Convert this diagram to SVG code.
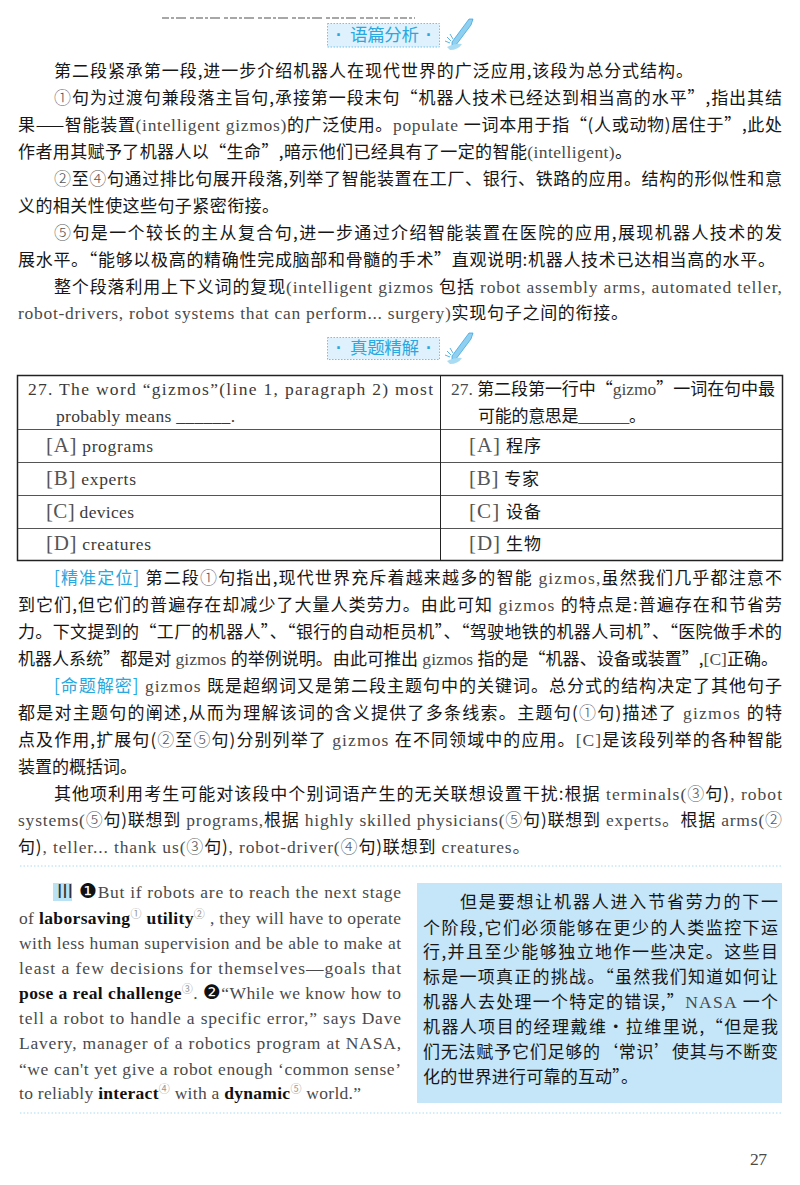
<svg xmlns="http://www.w3.org/2000/svg" xmlns:xlink="http://www.w3.org/1999/xlink" width="800" height="1185" viewBox="0 0 800 1185">
<style>
text{font-family:"Noto Sans CJK SC","Liberation Sans",sans-serif;font-size:17px;fill:#161616;white-space:pre}
.e{font-family:"Liberation Serif","Noto Sans CJK SC",serif;fill:#4a4a4a;font-size:17.500px}
.n{fill:#5a5a5a;font-weight:300}
.b{font-family:"Liberation Serif",serif;font-weight:bold;fill:#111;font-size:17.500px}
.s{font-family:"Noto Sans CJK SC",sans-serif;font-size:11px;fill:#999}
.k{font-family:"DejaVu Sans",sans-serif;fill:#111;font-size:20px}
.h{fill:#29a8e0}
.br{font-family:"Liberation Serif",serif;fill:#555;font-size:21px;font-weight:normal}
.badge{fill:#dff1fc;stroke:#6cc5ee;stroke-width:1;stroke-dasharray:1.5 1.5}
.bt{fill:#29a8e0;font-size:17.500px}
.bd{font-family:"Liberation Sans",sans-serif;font-weight:bold;fill:#29a8e0;font-size:17.500px}
.eng text{font-family:"Liberation Serif",serif;fill:#3a3a3a;font-size:17.500px}
.dot{stroke:#a9dcf2;stroke-width:1;stroke-dasharray:1.5 2;fill:none}
.t{stroke:#222;fill:none}
.r{stroke:#555;fill:none;stroke-width:1.200}
</style>
<defs>
<g id="pen">
<path d="M469 19 L473 19 L471 25 L456 45 L452 47 L452 42 Z" fill="#8fd0f0" stroke="#2f9fdc" stroke-width="0.700"/>
<path d="M447 47 Q456 43 462 44 Q458 50 450 50 Z" fill="#a9dcf2"/>
<path d="M447 37 L451 41 M445 41 L450 43 M450 34 L453 39" stroke="#2f9fdc" stroke-width="0.800" fill="none"/>
</g>
</defs>
<rect width="800" height="1185" fill="#fff"/>
<path id="cut-line" d="M162 18 H415" stroke="#8a8a8a" stroke-width="1.500" stroke-dasharray="7 2 3 2 10 4 4 2" fill="none"/>
<g id="badge-analysis">
<rect class="badge" x="327.500" y="23.500" width="112" height="23.500"/>
<text class="bd" x="336" y="41">·</text>
<text class="bt" x="350" y="41" textLength="69">语篇分析</text>
<text class="bd" x="426" y="41">·</text>
<use xlink:href="#pen"/>
</g>
<g id="analysis-text">
<text x="54" y="77" textLength="639">第二段紧承第一段,进一步介绍机器人在现代世界的广泛应用,该段为总分式结构。</text>
<text x="54" y="104" textLength="728"><tspan class="n">①</tspan>句为过渡句兼段落主旨句,承接第一段末句“机器人技术已经达到相当高的水平”,指出其结</text>
<text x="18" y="131" textLength="764">果——智能装置<tspan class="e">(intelligent gizmos)</tspan>的广泛使用。<tspan class="e">populate </tspan>一词本用于指“(人或动物)居住于”,此处</text>
<text x="18" y="158" textLength="614">作者用其赋予了机器人以“生命”,暗示他们已经具有了一定的智能<tspan class="e">(intelligent)</tspan>。</text>
<text x="54" y="185" textLength="728"><tspan class="n">②</tspan>至<tspan class="n">④</tspan>句通过排比句展开段落,列举了智能装置在工厂、银行、铁路的应用。结构的形似性和意</text>
<text x="18" y="212" textLength="261">义的相关性使这些句子紧密衔接。</text>
<text x="54" y="239" textLength="728"><tspan class="n">⑤</tspan>句是一个较长的主从复合句,进一步通过介绍智能装置在医院的应用,展现机器人技术的发</text>
<text x="18" y="266" textLength="757">展水平。“能够以极高的精确性完成脑部和骨髓的手术”直观说明:机器人技术已达相当高的水平。</text>
<text x="54" y="293" textLength="728">整个段落利用上下义词的复现<tspan class="e">(intelligent gizmos </tspan>包括<tspan class="e"> robot assembly arms, automated teller,</tspan></text>
<text x="18" y="319" textLength="610"><tspan class="e">robot-drivers, robot systems that can perform... surgery)</tspan>实现句子之间的衔接。</text>
</g>
<g id="badge-exam">
<rect class="badge" x="327.500" y="337.500" width="112" height="22"/>
<text class="bd" x="336" y="354">·</text>
<text class="bt" x="350" y="354" textLength="69">真题精解</text>
<text class="bd" x="426" y="354">·</text>
<use xlink:href="#pen" y="314"/>
</g>
<g id="table">
<rect class="t" x="17.500" y="375.500" width="765" height="185" stroke-width="1.500"/>
<path class="r" d="M18 429.500H782M18 462.500H782M18 495.500H782M18 528.500H782"/>
<path class="t" d="M440.500 375V561" stroke-width="1"/>
<g class="eng">
<text x="28" y="395" textLength="405">27. The word “gizmos”(line 1, paragraph 2) most</text>
<text x="56" y="422" textLength="179">probably means ______.</text>
<text x="46" y="452" textLength="107"><tspan class="br">[A]</tspan> programs</text>
<text x="46" y="485" textLength="90"><tspan class="br">[B]</tspan> experts</text>
<text x="46" y="518" textLength="88"><tspan class="br">[C]</tspan> devices</text>
<text x="46" y="550" textLength="105"><tspan class="br">[D]</tspan> creatures</text>
</g>
<text x="451" y="395" textLength="324"><tspan class="e">27. </tspan>第二段第一行中“<tspan class="e">gizmo</tspan>”一词在句中最</text>
<text x="478" y="422" textLength="168">可能的意思是<tspan class="e">______</tspan>。</text>
<text x="469" y="452" textLength="72"><tspan class="br">[A]</tspan><tspan class="e"> </tspan>程序</text>
<text x="469" y="485" textLength="70"><tspan class="br">[B]</tspan><tspan class="e"> </tspan>专家</text>
<text x="469" y="518" textLength="72"><tspan class="br">[C]</tspan><tspan class="e"> </tspan>设备</text>
<text x="469" y="550" textLength="72"><tspan class="br">[D]</tspan><tspan class="e"> </tspan>生物</text>
</g>
<g id="explanation-text">
<text x="54" y="584" textLength="728"><tspan class="h">[精准定位]</tspan> 第二段<tspan class="n">①</tspan>句指出,现代世界充斥着越来越多的智能<tspan class="e"> gizmos,</tspan>虽然我们几乎都注意不</text>
<text x="18" y="611" textLength="764">到它们,但它们的普遍存在却减少了大量人类劳力。由此可知<tspan class="e"> gizmos </tspan>的特点是:普遍存在和节省劳</text>
<text x="18" y="638" textLength="764">力。下文提到的“工厂的机器人”、“银行的自动柜员机”、“驾驶地铁的机器人司机”、“医院做手术的</text>
<text x="18" y="665" textLength="760">机器人系统”都是对<tspan class="e"> gizmos </tspan>的举例说明。由此可推出<tspan class="e"> gizmos </tspan>指的是“机器、设备或装置”,<tspan class="e">[C]</tspan>正确。</text>
<text x="54" y="692" textLength="728"><tspan class="h">[命题解密]</tspan><tspan class="e"> gizmos </tspan>既是超纲词又是第二段主题句中的关键词。总分式的结构决定了其他句子</text>
<text x="18" y="719" textLength="764">都是对主题句的阐述,从而为理解该词的含义提供了多条线索。主题句(<tspan class="n">①</tspan>句)描述了<tspan class="e"> gizmos </tspan>的特</text>
<text x="18" y="746" textLength="764">点及作用,扩展句(<tspan class="n">②</tspan>至<tspan class="n">⑤</tspan>句)分别列举了<tspan class="e"> gizmos </tspan>在不同领域中的应用。<tspan class="e">[C]</tspan>是该段列举的各种智能</text>
<text x="18" y="773">装置的概括词。</text>
<text x="54" y="800" textLength="728">其他项利用考生可能对该段中个别词语产生的无关联想设置干扰:根据<tspan class="e"> terminals(</tspan><tspan class="n">③</tspan>句)<tspan class="e">, robot</tspan></text>
<text x="18" y="826" textLength="764"><tspan class="e">systems(</tspan><tspan class="n">⑤</tspan>句)联想到<tspan class="e"> programs,</tspan>根据<tspan class="e"> highly skilled physicians(</tspan><tspan class="n">⑤</tspan>句)联想到<tspan class="e"> experts。</tspan>根据<tspan class="e"> arms(</tspan><tspan class="n">②</tspan></text>
<text x="18" y="853" textLength="512">句)<tspan class="e">, teller... thank us(</tspan><tspan class="n">③</tspan>句)<tspan class="e">, robot-driver(</tspan><tspan class="n">④</tspan>句)联想到<tspan class="e"> creatures。</tspan></text>
</g>
<path class="dot" id="rule-top" d="M20 866H782"/>
<g id="english-passage">
<rect x="53" y="883" width="19" height="18" fill="#b9e2f5"/>
<text class="e" x="56" y="898" style="fill:#333;font-size:18px">Ⅲ</text>
<text class="e" x="79" y="898" textLength="322"><tspan class="k">❶</tspan>But if robots are to reach the next stage</text>
<text class="e" x="19" y="924" textLength="382">of <tspan class="b">laborsaving</tspan><tspan class="s" dy="-6">①</tspan><tspan dy="6"> </tspan><tspan class="b">utility</tspan><tspan class="s" dy="-6">②</tspan><tspan dy="6"> , they will have to operate</tspan></text>
<text class="e" x="19" y="949" textLength="382">with less human supervision and be able to make at</text>
<text class="e" x="19" y="974" textLength="382">least a few decisions for themselves—goals that</text>
<text class="e" x="19" y="999" textLength="382"><tspan class="b">pose a real challenge</tspan><tspan class="s" dy="-6">③</tspan><tspan dy="6">. </tspan><tspan class="k">❷</tspan>“While we know how to</text>
<text class="e" x="19" y="1024" textLength="382">tell a robot to handle a specific error,” says Dave</text>
<text class="e" x="19" y="1049" textLength="382">Lavery, manager of a robotics program at NASA,</text>
<text class="e" x="19" y="1075" textLength="382">“we can't yet give a robot enough ‘common sense’</text>
<text class="e" x="19" y="1099" textLength="342">to reliably <tspan class="b">interact</tspan><tspan class="s" dy="-6">④</tspan><tspan dy="6"> with a </tspan><tspan class="b">dynamic</tspan><tspan class="s" dy="-6">⑤</tspan><tspan dy="6"> world.”</tspan></text>
</g>
<g id="chinese-translation">
<rect x="417" y="883" width="365" height="220" fill="#c5e6f8"/>
<text x="460" y="908" textLength="318">但是要想让机器人进入节省劳力的下一</text>
<text x="423" y="934" textLength="355">个阶段,它们必须能够在更少的人类监控下运</text>
<text x="423" y="958" textLength="355">行,并且至少能够独立地作一些决定。这些目</text>
<text x="423" y="983" textLength="355">标是一项真正的挑战。“虽然我们知道如何让</text>
<text x="423" y="1008" textLength="355">机器人去处理一个特定的错误,”<tspan class="e">NASA </tspan>一个</text>
<text x="423" y="1033" textLength="355">机器人项目的经理戴维·拉维里说,“但是我</text>
<text x="423" y="1058" textLength="355">们无法赋予它们足够的‘常识’使其与不断变</text>
<text x="423" y="1083" textLength="215">化的世界进行可靠的互动”。</text>
</g>
<path class="dot" id="rule-bottom" d="M20 1113H782"/>
<text class="e" id="page-number" x="750" y="1165" textLength="17">27</text>
</svg>
